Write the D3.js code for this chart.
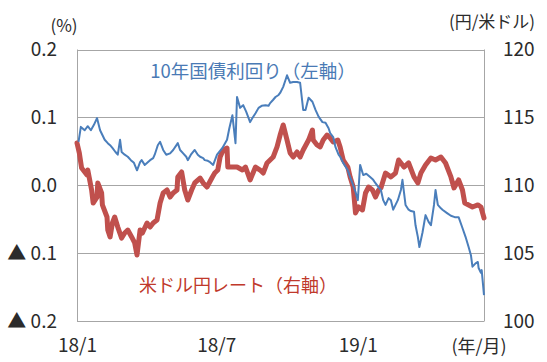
<!DOCTYPE html>
<html><head><meta charset="utf-8">
<script src="https://cdn.jsdelivr.net/npm/d3@7"></script>
<style>
html,body{margin:0;padding:0;background:#fff;}
svg{display:block;font-family:"Noto Sans CJK JP","Noto Sans",sans-serif;}
</style></head>
<body>
<svg id="chart" width="547" height="362"></svg>
<script>
// ---- data ----
const yieldData = [
["2018-01-03",0.064],["2018-01-06",0.086],["2018-01-11",0.081],["2018-01-15",0.087],["2018-01-19",0.081],["2018-01-23",0.089],["2018-01-27",0.099],["2018-01-31",0.081],
["2018-02-03",0.074],["2018-02-06",0.067],["2018-02-10",0.062],["2018-02-13",0.059],["2018-02-16",0.055],["2018-02-20",0.049],["2018-02-23",0.045],["2018-02-26",0.067],["2018-02-28",0.049],
["2018-03-04",0.045],["2018-03-08",0.042],["2018-03-12",0.037],["2018-03-16",0.033],["2018-03-20",0.022],["2018-03-24",0.034],["2018-03-26",0.037],["2018-03-30",0.030],
["2018-04-03",0.034],["2018-04-06",0.037],["2018-04-10",0.040],["2018-04-12",0.045],["2018-04-16",0.059],["2018-04-19",0.064],["2018-04-23",0.052],["2018-04-27",0.045],
["2018-05-02",0.047],["2018-05-06",0.052],["2018-05-12",0.062],["2018-05-15",0.052],["2018-05-19",0.047],["2018-05-23",0.042],["2018-05-25",0.037],["2018-05-29",0.045],
["2018-06-03",0.052],["2018-06-07",0.045],["2018-06-10",0.042],["2018-06-14",0.040],["2018-06-16",0.037],["2018-06-20",0.036],["2018-06-23",0.034],["2018-06-27",0.030],
["2018-07-02",0.045],["2018-07-09",0.055],["2018-07-15",0.067],["2018-07-18",0.084],["2018-07-22",0.103],["2018-07-26",0.062],["2018-07-28",0.130],
["2018-08-01",0.114],["2018-08-05",0.118],["2018-08-09",0.108],["2018-08-14",0.093],["2018-08-17",0.099],["2018-08-21",0.106],["2018-08-25",0.114],["2018-08-29",0.117],
["2018-09-03",0.118],["2018-09-07",0.117],["2018-09-09",0.121],["2018-09-13",0.126],["2018-09-16",0.130],["2018-09-20",0.133],["2018-09-22",0.136],["2018-09-26",0.145],["2018-09-29",0.155],
["2018-10-01",0.162],["2018-10-05",0.151],["2018-10-09",0.152],["2018-10-14",0.152],["2018-10-18",0.151],["2018-10-22",0.111],["2018-10-25",0.111],["2018-10-29",0.129],
["2018-11-03",0.123],["2018-11-07",0.111],["2018-11-11",0.101],["2018-11-16",0.093],["2018-11-20",0.092],["2018-11-24",0.084],["2018-11-26",0.077],["2018-11-30",0.071],
["2018-12-03",0.056],["2018-12-07",0.045],["2018-12-09",0.042],["2018-12-13",0.033],["2018-12-19",0.022],["2018-12-22",0.012],["2018-12-25",0.003],["2018-12-29",-0.010],
["2019-01-01",-0.022],["2019-01-04",0.030],["2019-01-08",0.015],["2019-01-12",0.017],["2019-01-17",0.012],["2019-01-21",0.008],["2019-01-24",0.003],["2019-01-28",-0.003],["2019-01-31",-0.007],
["2019-02-03",-0.022],["2019-02-06",-0.029],["2019-02-10",-0.019],["2019-02-13",-0.022],["2019-02-16",-0.036],["2019-02-22",-0.022],["2019-02-26",-0.007],["2019-02-28",0.008],
["2019-03-04",-0.029],["2019-03-08",-0.036],["2019-03-11",-0.038],["2019-03-15",-0.039],["2019-03-17",-0.059],["2019-03-20",-0.076],["2019-03-22",-0.091],["2019-03-26",-0.070],["2019-03-30",-0.044],
["2019-04-03",-0.054],["2019-04-06",-0.059],["2019-04-10",-0.029],["2019-04-12",-0.007],["2019-04-15",-0.029],["2019-04-19",-0.034],["2019-04-21",-0.036],["2019-04-27",-0.041],
["2019-05-02",-0.045],["2019-05-07",-0.047],["2019-05-12",-0.047],["2019-05-17",-0.063],["2019-05-21",-0.076],["2019-05-25",-0.091],["2019-05-28",-0.103],["2019-05-30",-0.120],
["2019-06-03",-0.115],["2019-06-06",-0.113],["2019-06-07",-0.122],["2019-06-10",-0.129],["2019-06-11",-0.125],["2019-06-14",-0.162]
];
const fxData = [
["2018-01-01",113.11],["2018-01-04",112.38],["2018-01-07",111.27],["2018-01-11",110.98],["2018-01-14",110.76],["2018-01-15",111.12],["2018-01-20",109.65],["2018-01-22",108.69],["2018-01-27",109.13],["2018-01-28",110.17],
["2018-02-02",109.43],["2018-02-03",108.55],["2018-02-09",107.66],["2018-02-10",106.70],["2018-02-13",106.19],["2018-02-16",107.22],["2018-02-19",107.66],["2018-02-23",106.92],["2018-02-28",106.11],
["2018-03-04",106.48],["2018-03-08",106.70],["2018-03-13",106.19],["2018-03-17",105.75],["2018-03-20",104.86],["2018-03-24",106.70],["2018-03-27",106.48],
["2018-04-02",107.22],["2018-04-06",106.92],["2018-04-10",107.22],["2018-04-15",107.44],["2018-04-19",108.69],["2018-04-23",109.43],["2018-04-28",109.65],
["2018-05-02",109.13],["2018-05-06",109.43],["2018-05-11",109.65],["2018-05-12",110.61],["2018-05-17",110.98],["2018-05-21",109.65],["2018-05-25",108.91],["2018-05-30",109.65],
["2018-06-03",110.17],["2018-06-10",110.53],["2018-06-14",110.17],["2018-06-19",109.87],["2018-06-26",110.61],["2018-06-29",110.90],
["2018-07-03",111.12],["2018-07-06",112.08],["2018-07-10",112.60],["2018-07-15",112.74],["2018-07-16",111.34],["2018-07-22",111.34],["2018-07-28",111.34],
["2018-08-04",111.12],["2018-08-08",111.34],["2018-08-14",110.39],["2018-08-21",111.34],["2018-08-27",111.12],["2018-08-31",110.90],
["2018-09-05",111.64],["2018-09-09",111.86],["2018-09-13",112.08],["2018-09-18",112.82],["2018-09-22",113.70],["2018-09-26",114.44],
["2018-10-01",113.33],["2018-10-05",112.38],["2018-10-09",112.08],["2018-10-14",112.45],["2018-10-18",112.08],["2018-10-22",112.60],["2018-10-29",113.33],
["2018-11-03",114.07],["2018-11-04",113.33],["2018-11-09",112.97],["2018-11-13",112.82],["2018-11-17",113.33],["2018-11-22",113.70],["2018-11-26",113.48],["2018-11-30",113.19],
["2018-12-06",113.33],["2018-12-09",112.82],["2018-12-13",111.86],["2018-12-19",111.34],["2018-12-22",110.61],["2018-12-26",109.87],["2018-12-29",107.96],
["2019-01-02",108.40],["2019-01-07",108.18],["2019-01-11",109.43],["2019-01-15",109.87],["2019-01-20",109.65],["2019-01-24",109.13],["2019-01-28",109.65],["2019-01-31",109.80],
["2019-02-06",110.90],["2019-02-13",110.61],["2019-02-19",110.90],["2019-02-23",111.86],["2019-03-02",111.34],["2019-03-08",111.64],["2019-03-15",110.61],["2019-03-20",110.17],["2019-03-24",110.90],["2019-03-30",111.49],
["2019-04-06",112.01],["2019-04-12",111.86],["2019-04-19",112.08],["2019-04-25",111.64],["2019-05-02",110.61],["2019-05-06",109.80],["2019-05-12",110.39],["2019-05-17",109.65],["2019-05-20",108.69],["2019-05-30",108.40],
["2019-06-06",108.55],["2019-06-10",108.40],["2019-06-14",107.59]
];
const leftTicks = [-0.2, -0.1, 0.0, 0.1, 0.2];
const rightTicks = [100, 105, 110, 115, 120];
const xTicks = ["2018-01-01", "2018-07-01", "2019-01-01"];
const xDomain = ["2018-01-01", "2019-06-14"];
const yieldLabel = "10年国債利回り（左軸）";
const fxLabel = "米ドル円レート（右軸）";
const leftUnit = "(%)";
const rightUnit = "(円/米ドル)";
const xUnit = "(年/月)";

// ---- chart ----
const parse = d3.timeParse("%Y-%m-%d");
const svg = d3.select("#chart");
const L = 77, R = 484, T = 49.5, B = 321;
const x = d3.scaleTime().domain(xDomain.map(parse)).range([L, R]);
const yL = d3.scaleLinear().domain([-0.2, 0.2]).range([B, T]);
const yR = d3.scaleLinear().domain([100, 120]).range([B, T]);
const grid = "#a6a6a6";
const txt = "#2b2b2b";
const ff = "Noto Sans CJK JP, Noto Sans, sans-serif";

// gridlines
svg.append("g").selectAll("line").data(leftTicks).join("line")
  .attr("x1", L).attr("x2", R)
  .attr("y1", d => Math.round(yL(d)) + 0.5).attr("y2", d => Math.round(yL(d)) + 0.5)
  .attr("stroke", grid).attr("stroke-width", 1);
// vertical axis lines
[L, R].forEach(px => svg.append("line")
  .attr("x1", px + 0.5).attr("x2", px + 0.5).attr("y1", T).attr("y2", B + 0.5)
  .attr("stroke", grid).attr("stroke-width", 1));

// left axis labels
const fmtL = d => (d < -1e-9 ? "▲ " : "") + Math.abs(d).toFixed(1);
const axL = d3.axisLeft(yL).tickValues(leftTicks).tickFormat(fmtL).tickSize(0).tickPadding(0);
const gL = svg.append("g").attr("transform", `translate(57,0)`).call(axL);
gL.select(".domain").remove();
gL.selectAll("text").attr("font-size", 19).attr("fill", txt).attr("font-family", ff);

// right axis labels
const axR = d3.axisRight(yR).tickValues(rightTicks).tickFormat(d3.format("d")).tickSize(0).tickPadding(0);
const gR = svg.append("g").attr("transform", `translate(503,0)`).call(axR);
gR.select(".domain").remove();
gR.selectAll("text").attr("font-size", 19).attr("fill", txt).attr("font-family", ff);

// bottom axis labels
const fmtX = d3.timeFormat("%y/%-m");
const axB = d3.axisBottom(x).tickValues(xTicks.map(parse)).tickFormat(fmtX).tickSize(0).tickPadding(0);
const gB = svg.append("g").attr("transform", `translate(0,338)`).call(axB);
gB.select(".domain").remove();
gB.selectAll("text").attr("font-size", 19).attr("fill", txt).attr("font-family", ff);

// units
svg.append("text").attr("x", 64).attr("y", 24).attr("text-anchor", "middle").attr("dominant-baseline", "central")
  .attr("font-size", 17).attr("fill", txt).text(leftUnit);
svg.append("text").attr("x", 492).attr("y", 20).attr("text-anchor", "middle").attr("dominant-baseline", "central")
  .attr("font-size", 17).attr("fill", txt).text(rightUnit);
svg.append("text").attr("x", 479).attr("y", 345).attr("text-anchor", "middle").attr("dominant-baseline", "central")
  .attr("font-size", 18).attr("fill", txt).text(xUnit);

// lines
const lineL = d3.line().x(d => x(parse(d[0]))).y(d => yL(d[1]));
const lineR = d3.line().x(d => x(parse(d[0]))).y(d => yR(d[1]));
svg.append("path").datum(fxData).attr("d", lineR).attr("fill", "none")
  .attr("stroke", "#c0504d").attr("stroke-width", 5).attr("stroke-linejoin", "round").attr("stroke-linecap", "round");
svg.append("path").datum(yieldData).attr("d", lineL).attr("fill", "none")
  .attr("stroke", "#4a7ebb").attr("stroke-width", 2).attr("stroke-linejoin", "round");

// series labels
svg.append("text").attr("x", 253).attr("y", 70).attr("text-anchor", "middle").attr("dominant-baseline", "central")
  .attr("font-size", 18.5).attr("fill", "#4a7ab5").text(yieldLabel);
svg.append("text").attr("x", 238).attr("y", 284).attr("text-anchor", "middle").attr("dominant-baseline", "central")
  .attr("font-size", 18).attr("fill", "#c0392b").text(fxLabel);
</script>
</body></html>
